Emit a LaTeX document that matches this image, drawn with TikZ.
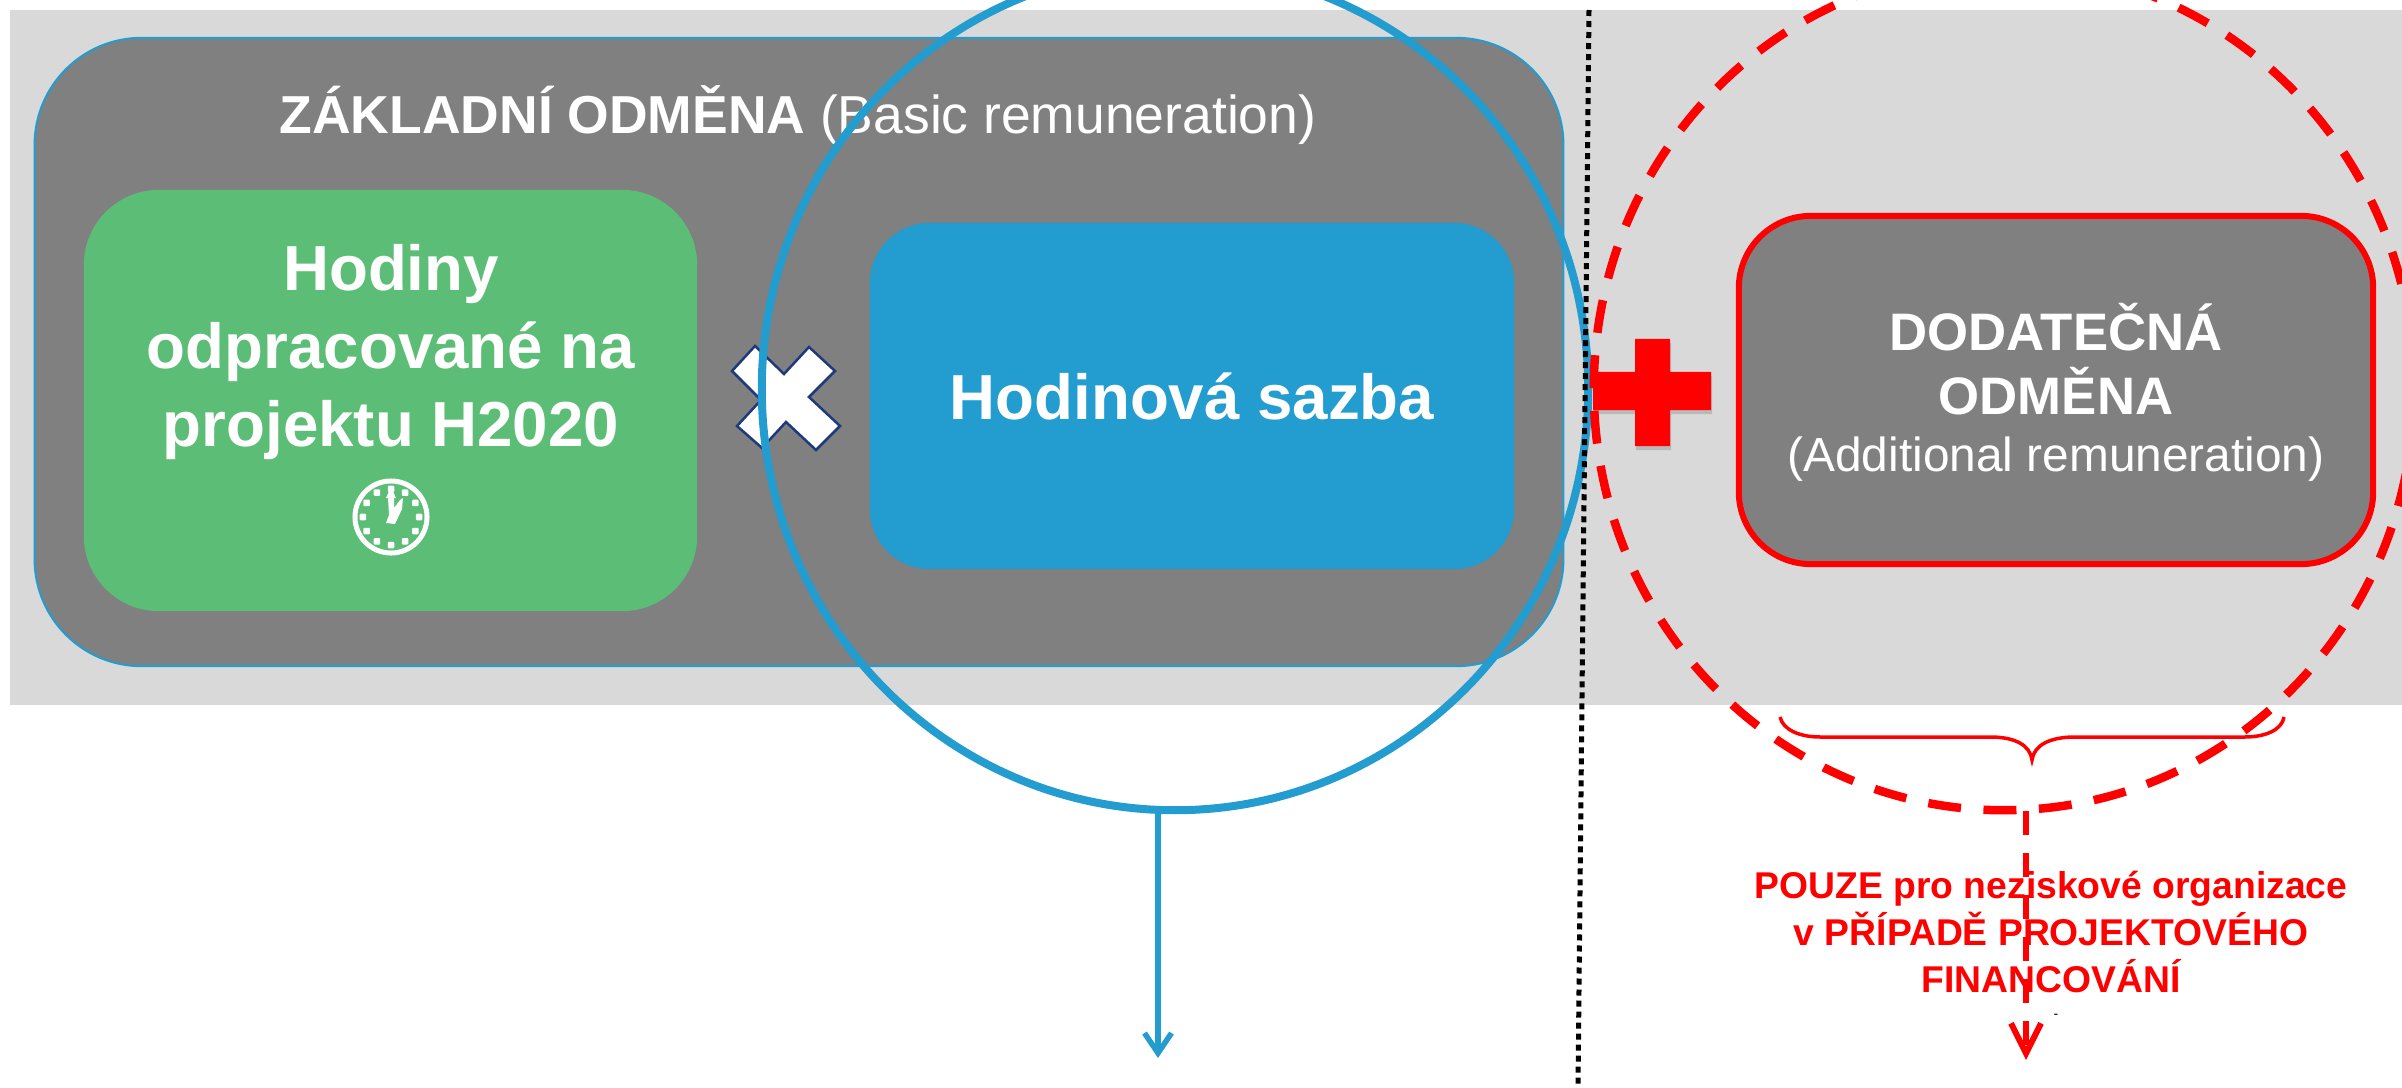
\documentclass[tikz,border=0pt]{standalone}
\usepackage{fontspec}
\setmainfont{Liberation Sans}
\usetikzlibrary{arrows.meta,shadows,shapes.geometric}
\definecolor{sediva}{HTML}{D9D9D9}
\definecolor{tmava}{HTML}{808080}
\definecolor{zelena}{HTML}{5CBD76}
\definecolor{modra}{HTML}{239CCF}
\definecolor{cervena}{HTML}{FF0000}
\definecolor{namodrna}{HTML}{1F3A7A}
\tikzset{
	box/.style={align=center,text=white,inner sep=0pt},
	greenbox/.style={box,fill=zelena,rounded corners=0.75cm,minimum width=6.13cm,minimum height=4.21cm},
	bluebox/.style={box,fill=modra,rounded corners=0.6cm,minimum width=6.44cm,minimum height=3.46cm},
	redbox/.style={box,fill=tmava,draw=cervena,line width=0.06cm,rounded corners=0.72cm,minimum width=6.34cm,minimum height=3.48cm},
	basebox/.style={fill=tmava,draw=modra,line width=0.02cm,rounded corners=1.07cm,minimum width=15.28cm,minimum height=6.28cm},
	bluering/.style={ellipse,draw=modra,line width=0.08cm,minimum width=8.26cm,minimum height=8.42cm,inner sep=0pt},
	redring/.style={ellipse,draw=cervena,line width=0.085cm,dash pattern=on 0.33cm off 0.225cm,dash phase=0.0475cm,minimum width=8.2cm,minimum height=8.42cm,inner sep=0pt},
	bigfont/.style={font=\fontsize{18.1}{22.2}\selectfont\bfseries},
	notefont/.style={font=\fontsize{10.6}{13.4}\selectfont\bfseries,text=cervena,align=center,inner sep=0pt},
	tick/.style={fill=white,minimum size=0.065cm,inner sep=0pt,rounded corners=0.01cm},
	bluearrow/.style={-{Straight Barb[length=0.2cm,width=0.27cm]},draw=modra,line width=0.055cm},
	redarrow/.style={-{Straight Barb[length=0.3cm,width=0.3cm]},draw=cervena,line width=0.06cm,dash pattern=on 0.24cm off 0.18cm}
}
\begin{document}
\begin{tikzpicture}[x=0.01cm,y=-0.01cm]
	\useasboundingbox (0,0) rectangle (2402,1088);

	\fill[sediva] (10,10) rectangle (2402,705);

	\node[basebox] (base) at (799,352) {};
	\node[text=white,inner sep=0pt,font=\fontsize{15.2}{20}\selectfont] (title) at (798,115) {\textbf{ZÁKLADNÍ ODMĚNA} (Basic remuneration)};

	\node[greenbox] (hodiny) at (390.5,400.5) {};
	\node[box,bigfont] (hodinytext) at (391,352) {Hodiny\\odpracované na\\projektu H2020};

	% hodiny
	\node[circle,draw=white,line width=0.05cm,minimum size=0.72cm,inner sep=0pt] (clock) at (391,517) {};
	\foreach \a in {0,30,...,330}
		\node[tick] (tick\a) at ([shift={(\a:0.28cm)}]clock.center) {};
	\fill[white] (391,487) -- (396,498) -- (394,498) -- (394,508) -- (400,500) -- (403,498) -- (402,509) -- (395,524) -- (386,523) -- (389,515) -- (388,498) -- (386,498) -- cycle;

	\node[bluebox,bigfont] (sazba) at (1192,396) {Hodinová sazba};

	\fill[draw=namodrna,line width=0.025cm,drop shadow={opacity=0.45,shadow xshift=0.025cm,shadow yshift=-0.035cm},fill=white]
		(755,346) -- (784,374) -- (809,347) -- (835,371) -- (809,397) -- (840,426) -- (816,450)
		-- (786,422) -- (762,448) -- (737,426) -- (761,400) -- (732,371) -- cycle;

	\node[bluering] (ring) at (1175,389) {};
	\coordinate (bluestart) at (1158,810);
	\coordinate (blueend) at (1158,1058);
	\draw[bluearrow] (bluestart) -- (blueend);

	\coordinate (dottop) at (1589,10);
	\coordinate (dotbottom) at (1578,1088);
	\draw[black,line width=0.05cm,dash pattern=on 0.06cm off 0.05cm] (dottop) -- (dotbottom);

	\fill[cervena,drop shadow={opacity=0.35,shadow xshift=0.01cm,shadow yshift=-0.04cm}]
		(1635,339) -- (1670,339) -- (1670,372) -- (1711,372) -- (1711,410) -- (1670,410)
		-- (1670,446) -- (1635,446) -- (1635,410) -- (1593,410) -- (1593,372) -- (1635,372) -- cycle;

	\node[redbox] (dodatecna) at (2056,390) {};
	\node[box,font=\fontsize{15}{18.2}\selectfont\bfseries] (dodatext) at (2056,359) {DODATEČNÁ\\ODMĚNA};
	\node[box,font=\fontsize{13.6}{17}\selectfont] (dodaplus) at (2056,459) {(Additional remuneration)};

	\node[redring] (redc) at (2004,389) {};

	% slozena zavorka
	\draw[cervena,line width=0.035cm] (1780,717) .. controls (1783,730) and (1800,737) .. (1820,737) -- (1990,737)
		.. controls (2015,737) and (2030,745) .. (2032,760) .. controls (2034,745) and (2050,737) .. (2075,737)
		-- (2245,737) .. controls (2265,737) and (2282,730) .. (2284,717);

	\coordinate (redstart) at (2026,811);
	\coordinate (redend) at (2026,1060);
	\draw[redarrow] (redstart) -- (redend);

	\node[notefont] (pouze) at (2051,932) {POUZE pro neziskové organizace\\v PŘÍPADĚ PROJEKTOVÉHO\\FINANCOVÁNÍ};
	\node[inner sep=0pt,font=\fontsize{4}{4}\selectfont,text=black] (pomlcka) at (2056,1016) {-};
\end{tikzpicture}
\end{document}
